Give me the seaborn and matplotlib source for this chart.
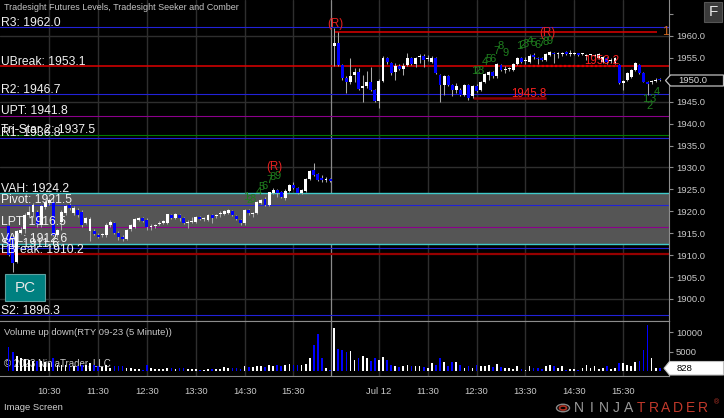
import numpy as np
import pandas as pd
import matplotlib
matplotlib.use("Agg")
import matplotlib.pyplot as plt
import matplotlib.transforms as mtransforms
from matplotlib.patches import Rectangle, Polygon, Circle
import seaborn as sns

# ---------------- data ----------------
# Jul 11 session, 5-minute bars from 09:40 to 16:15
day1_open = [1916.6, 1914.2, 1908.5, 1915.0, 1916.0, 1919.2, 1919.9, 1919.9, 1916.9, 1920.9,
             1921.8, 1922.2, 1914.6, 1917.6, 1919.6, 1921.4, 1919.6, 1920.4, 1919.9, 1917.3,
             1915.4, 1915.5, 1914.6, 1914.5, 1914.6, 1916.8, 1917.3, 1915.0, 1914.2, 1913.7,
             1915.9, 1916.5, 1918.0, 1918.4, 1918.0, 1916.5, 1916.7, 1917.0, 1917.3, 1917.3,
             1919.2, 1918.4, 1919.2, 1918.4, 1917.3, 1917.5, 1917.5, 1918.8, 1918.2, 1918.0,
             1919.2, 1918.9, 1919.3, 1919.4, 1919.6, 1920.0, 1919.0, 1918.0, 1917.3, 1920.3,
             1919.4, 1919.7, 1921.8, 1922.8, 1921.4, 1924.2, 1924.9, 1924.3, 1923.0, 1924.7,
             1926.0, 1925.3, 1924.1, 1924.7, 1927.3, 1929.4, 1928.5, 1927.6, 1927.2, 1927.3]
day1_high = [1916.9, 1914.5, 1915.8, 1916.5, 1919.6, 1921.1, 1922.0, 1920.3, 1921.4, 1922.6,
             1923.0, 1923.5, 1916.0, 1920.3, 1921.4, 1921.8, 1921.1, 1920.7, 1920.3, 1918.8,
             1918.6, 1916.0, 1915.0, 1915.0, 1917.3, 1918.0, 1917.6, 1915.4, 1914.5, 1915.9,
             1917.2, 1918.5, 1918.8, 1918.7, 1918.4, 1917.0, 1917.2, 1917.7, 1918.1, 1919.5,
             1919.5, 1919.6, 1919.5, 1918.6, 1918.0, 1918.8, 1919.0, 1919.0, 1918.8, 1919.5,
             1919.5, 1919.3, 1920.0, 1920.2, 1920.6, 1920.3, 1919.2, 1918.3, 1920.6, 1920.6,
             1919.8, 1922.4, 1922.9, 1923.3, 1924.5, 1925.3, 1925.2, 1924.6, 1925.0, 1926.3,
             1926.6, 1925.6, 1925.2, 1927.5, 1929.5, 1931.0, 1928.8, 1928.3, 1927.8, 1927.5]
day1_low = [1909.8, 1906.2, 1908.3, 1914.8, 1915.0, 1918.8, 1918.8, 1916.5, 1916.5, 1920.5,
            1921.4, 1914.3, 1914.2, 1915.7, 1919.2, 1920.3, 1919.2, 1918.8, 1916.5, 1917.0,
            1913.3, 1914.5, 1913.9, 1914.2, 1914.2, 1916.5, 1914.8, 1913.5, 1913.3, 1913.4,
            1915.6, 1916.3, 1917.8, 1917.6, 1915.8, 1915.8, 1916.3, 1916.8, 1917.1, 1917.1,
            1918.2, 1918.2, 1917.8, 1917.1, 1916.2, 1917.3, 1917.3, 1918.0, 1917.8, 1917.8,
            1917.3, 1918.5, 1918.8, 1919.2, 1919.4, 1919.0, 1918.0, 1916.9, 1916.9, 1919.2,
            1918.8, 1919.5, 1921.6, 1921.1, 1921.2, 1923.9, 1923.3, 1923.0, 1922.6, 1924.5,
            1925.0, 1923.9, 1923.9, 1924.5, 1927.1, 1928.1, 1926.9, 1926.8, 1926.7, 1926.7]
day1_close = [1910.0, 1908.1, 1915.4, 1915.7, 1919.2, 1919.9, 1921.4, 1916.9, 1921.1, 1922.2,
              1922.6, 1914.6, 1915.7, 1919.9, 1921.1, 1920.8, 1920.7, 1919.2, 1916.9, 1918.4,
              1918.2, 1914.8, 1914.2, 1914.7, 1916.9, 1917.6, 1915.0, 1914.2, 1913.7, 1915.7,
              1916.9, 1918.2, 1918.4, 1917.9, 1916.4, 1916.7, 1916.9, 1917.4, 1917.8, 1919.3,
              1918.4, 1919.3, 1918.4, 1917.3, 1917.5, 1917.7, 1918.8, 1918.2, 1918.4, 1919.2,
              1918.4, 1919.1, 1919.5, 1920.0, 1920.3, 1919.2, 1918.2, 1917.3, 1920.3, 1919.6,
              1919.6, 1922.2, 1922.6, 1921.4, 1924.3, 1924.9, 1924.1, 1923.3, 1924.7, 1926.0,
              1925.3, 1924.1, 1924.9, 1927.3, 1929.2, 1928.3, 1927.1, 1927.2, 1927.4, 1926.9]
day1_volume = [6100, 4900, 4000, 3500, 3200, 2900, 2700, 2700, 2500, 2300,
               2100, 3500, 1600, 1600, 1500, 1500, 1200, 1200, 1600, 1500,
               2100, 1500, 1200, 950, 1600, 800, 1400, 1400, 1400, 800,
               800, 600, 600, 350, 1600, 800, 600, 500, 600, 800,
               800, 600, 800, 800, 600, 600, 600, 350, 350, 600,
               600, 600, 600, 950, 800, 800, 800, 600, 1200, 950,
               950, 1200, 1200, 950, 1500, 1200, 1500, 1200, 1500, 1800,
               1600, 1600, 1600, 1800, 3500, 6600, 9500, 3400, 800, 350]

# Jul 12 session, 5-minute bars from 09:35 to 16:15
day2_open = [1957.6, 1958.3, 1953.3, 1950.4, 1949.4, 1951.1, 1951.7, 1948.1, 1948.5, 1949.6,
             1947.7, 1945.2, 1949.8, 1955.0, 1953.8, 1951.7, 1953.2, 1952.5, 1953.4, 1954.9,
             1953.7, 1955.2, 1955.5, 1954.7, 1954.1, 1955.0, 1951.1, 1948.8, 1950.9, 1948.8,
             1947.7, 1947.7, 1946.5, 1948.8, 1946.2, 1948.6, 1947.7, 1949.4, 1951.1, 1951.7,
             1950.8, 1953.4, 1952.3, 1952.4, 1952.2, 1953.6, 1955.0, 1954.4, 1954.1, 1955.7,
             1955.0, 1955.0, 1954.6, 1955.6, 1956.1, 1955.8, 1955.9, 1956.3, 1955.9, 1955.9,
             1956.0, 1955.9, 1955.5, 1955.6, 1955.4, 1955.0, 1954.0, 1954.9, 1954.2, 1953.9,
             1953.4, 1949.3, 1950.0, 1950.6, 1952.2, 1953.4, 1951.5, 1949.6, 1949.4, 1949.8,
             1950.1]
day2_high = [1961.8, 1960.9, 1953.6, 1950.8, 1955.0, 1952.8, 1952.6, 1951.1, 1951.9, 1953.0,
             1948.0, 1950.2, 1955.5, 1955.3, 1954.0, 1953.8, 1953.5, 1953.8, 1956.0, 1955.2,
             1955.3, 1955.8, 1955.8, 1955.7, 1955.5, 1955.3, 1951.3, 1951.1, 1951.1, 1949.0,
             1949.2, 1948.1, 1949.1, 1949.0, 1948.9, 1949.0, 1949.8, 1951.6, 1952.1, 1952.0,
             1953.8, 1953.6, 1953.2, 1953.0, 1953.8, 1955.3, 1955.3, 1955.1, 1955.8, 1956.0,
             1955.1, 1955.3, 1956.0, 1956.6, 1956.4, 1956.3, 1956.3, 1956.5, 1956.8, 1956.3,
             1956.2, 1956.2, 1955.8, 1955.9, 1955.8, 1956.2, 1955.5, 1955.2, 1954.9, 1955.2,
             1953.6, 1950.0, 1951.7, 1952.4, 1954.1, 1953.7, 1951.7, 1949.8, 1950.0, 1950.3,
             1950.4]
day2_low = [1953.2, 1953.1, 1950.0, 1946.9, 1949.1, 1949.6, 1947.7, 1945.0, 1948.2, 1947.4,
            1944.9, 1943.6, 1949.6, 1953.7, 1951.1, 1950.0, 1952.2, 1951.1, 1953.2, 1953.3,
            1953.0, 1953.8, 1953.0, 1954.2, 1953.8, 1951.3, 1945.0, 1946.5, 1948.5, 1946.2,
            1947.0, 1946.2, 1946.2, 1945.5, 1945.9, 1947.2, 1947.4, 1949.2, 1950.0, 1950.5,
            1950.5, 1952.0, 1951.5, 1951.9, 1952.0, 1953.4, 1953.8, 1953.7, 1953.9, 1954.8,
            1953.7, 1954.2, 1954.4, 1955.4, 1953.8, 1954.9, 1955.5, 1955.6, 1955.4, 1955.7,
            1955.5, 1955.7, 1954.5, 1955.3, 1954.8, 1954.8, 1953.8, 1953.7, 1953.9, 1953.6,
            1949.0, 1947.7, 1949.8, 1950.4, 1952.0, 1951.3, 1949.4, 1946.5, 1949.1, 1949.6,
            1949.7]
day2_close = [1958.3, 1953.4, 1950.3, 1949.4, 1950.9, 1951.7, 1948.0, 1948.5, 1949.5, 1947.7,
              1945.2, 1949.8, 1955.0, 1954.0, 1951.5, 1953.2, 1952.5, 1953.2, 1955.0, 1953.6,
              1954.9, 1955.4, 1954.6, 1955.0, 1955.0, 1951.5, 1948.8, 1950.9, 1948.8, 1947.7,
              1948.6, 1946.5, 1948.8, 1945.8, 1948.6, 1947.5, 1949.5, 1951.3, 1951.7, 1950.8,
              1953.6, 1952.2, 1952.5, 1952.6, 1953.6, 1955.0, 1954.1, 1954.6, 1955.5, 1955.1,
              1954.8, 1954.5, 1955.8, 1956.3, 1955.8, 1956.0, 1956.0, 1955.8, 1956.1, 1956.1,
              1955.7, 1956.0, 1955.6, 1955.7, 1955.6, 1955.9, 1955.2, 1954.0, 1954.6, 1954.9,
              1949.2, 1949.7, 1951.5, 1952.2, 1953.8, 1951.5, 1949.6, 1949.1, 1949.6, 1950.0,
              1950.0]
day2_volume = [11000, 5800, 5400, 5000, 5200, 2800, 3300, 3900, 3300, 2600,
               3300, 2800, 3700, 2800, 1700, 1300, 1100, 1300, 1700, 1300,
               1300, 1300, 1100, 900, 2200, 1700, 3400, 2400, 1300, 2400,
               2300, 1600, 900, 1300, 900, 1600, 1300, 1300, 1600, 1100,
               1800, 1100, 900, 900, 600, 1200, 600, 350, 1200, 900,
               800, 600, 1200, 1500, 1400, 800, 1200, 350, 600, 500,
               350, 800, 1600, 800, 1200, 600, 900, 1200, 600, 900,
               2200, 2000, 1500, 1200, 2300, 2600, 5400, 12000, 3500, 900,
               828]

# horizontal levels
level_names = ["R3", "UBreak", "R2", "UPT", "Tri-Star 2", "R1", "VAH", "Pivot",
               "LPT", "VAL", "S1", "LBreak", "S2"]
level_values = [1962.0, 1953.1, 1946.7, 1941.8, 1937.5, 1936.8, 1924.2, 1921.5,
                1916.5, 1912.6, 1911.6, 1910.2, 1896.3]
value_area = (1912.6, 1924.2)
comber_target = 1960.8
seeker_low = 1945.8
seeker_mid = 1953.2

# tick labels (times on the axis)
tick_times = ["2023-07-11 10:30", "2023-07-11 11:30", "2023-07-11 12:30", "2023-07-11 13:30",
              "2023-07-11 14:30", "2023-07-11 15:30", "2023-07-12 10:30", "2023-07-12 11:30",
              "2023-07-12 12:30", "2023-07-12 13:30", "2023-07-12 14:30", "2023-07-12 15:30"]
tick_labels = ["10:30", "11:30", "12:30", "13:30", "14:30", "15:30",
               "Jul 12", "11:30", "12:30", "13:30", "14:30", "15:30"]

# Seeker counts (bar position, price, digit)
seek_x = [59.5, 60.3, 61.1, 62.4, 63.2, 64.0, 65.0, 66.0, 67.1,
          115.4, 116.2, 117.1, 118.1, 119.0, 119.9, 120.9, 122.0, 123.0,
          126.4, 127.3, 128.1, 129.1, 129.9, 130.9, 132.0, 133.0, 134.0,
          157.4, 158.4, 159.3, 160.3]
seek_y = [1923.3, 1922.6, 1922.7, 1924.5, 1925.6, 1925.8, 1927.1, 1927.9, 1928.1,
          1952.1, 1951.9, 1952.1, 1954.1, 1954.7, 1954.7, 1956.6, 1957.7, 1956.1,
          1957.7, 1957.9, 1958.2, 1958.9, 1958.5, 1957.9, 1958.3, 1958.7, 1958.9,
          1945.7, 1944.0, 1945.7, 1947.2]
seek_txt = list("123456789") * 3 + list("1234")
reversal_x = [81.2, 133.3, 66.2]
reversal_y = [1962.7, 1960.7, 1930.1]

# ---------------- build frame ----------------
SLOTS_PER_DAY = 81
def to_slot(ts):
    ts = pd.Timestamp(ts)
    day = (ts.normalize() - pd.Timestamp("2023-07-11")).days
    minutes = ts.hour * 60 + ts.minute - (9 * 60 + 35)
    return day * SLOTS_PER_DAY + minutes / 5

d1_times = pd.date_range("2023-07-11 09:40", periods=len(day1_open), freq="5min")
d2_times = pd.date_range("2023-07-12 09:35", periods=len(day2_open), freq="5min")
df = pd.DataFrame({
    "time": list(d1_times) + list(d2_times),
    "open": day1_open + day2_open,
    "high": day1_high + day2_high,
    "low": day1_low + day2_low,
    "close": day1_close + day2_close,
    "volume": day1_volume + day2_volume,
})
df["slot"] = [to_slot(t) for t in df["time"]]
df["dir"] = np.where(df["close"] >= df["open"], "up", "down")
tick_slots = [to_slot(t) for t in tick_times]
session_break = to_slot(d1_times[-1]) + 0.2
last_price = day2_close[-1]

# ---------------- style ----------------
sns.set_theme(style="dark", rc={
    "figure.facecolor": "black", "axes.facecolor": "black",
    "axes.edgecolor": "#8c8c8c", "text.color": "#d0d0d0",
    "xtick.color": "#c8c8c8", "ytick.color": "#c8c8c8",
})
plt.rcParams["font.family"] = ["Liberation Sans", "DejaVu Sans"]

W, H = 724, 418
fig = plt.figure(figsize=(W / 100, H / 100), dpi=100, facecolor="black")
def fx(px): return px / W
def fy(py): return 1 - py / H

PANEL_R = 668.5
ax = fig.add_axes([0, fy(320.7), PANEL_R / W, 320.7 / H])
axv = fig.add_axes([0, fy(376.3), PANEL_R / W, (376.3 - 320.7) / H], sharex=ax)
for a in (ax, axv):
    a.set_facecolor("black")
    a.grid(False)

XL = (-1.11, 163.15)
GRID = "#2e2e2e"
BLUE = "#2222d8"
ax.set_ylim(1895.05, 1968.2)

# grid
for v in range(1900, 1961, 15):
    ax.axhline(v, color=GRID, lw=1.0, zorder=1)
for s in tick_slots:
    ax.axvline(s, color=GRID, lw=1.0, zorder=1)
    axv.axvline(s, color=GRID, lw=1.0, zorder=1)
ax.axvline(session_break, color="#8a8a8a", lw=0.9, zorder=1)
axv.axvline(session_break, color="#8a8a8a", lw=0.9, zorder=1)

# value area
ax.axhspan(value_area[0], value_area[1], color="#555555", lw=0, zorder=1.5)

# level lines + labels
level_colors = [BLUE, "#e00000", BLUE, "#8b008b", "#007a00", BLUE, "#3fcaca", BLUE,
                "#8b008b", "#3fcaca", BLUE, "#960000", BLUE]
level_lw = [0.8, 1.1, 0.8, 0.8, 0.8, 0.8, 1.0, 0.8, 0.8, 1.0, 0.8, 1.6, 0.8]
lab_tr = mtransforms.blended_transform_factory(ax.transAxes, ax.transData) + \
    mtransforms.ScaledTranslation(0, 1.4 / 100, fig.dpi_scale_trans)
for name, val, c, lw in zip(level_names, level_values, level_colors, level_lw):
    ax.axhline(val, color=c, lw=lw, zorder=2)
    ax.text(0.002, val, f"{name}: {val:.1f}", transform=lab_tr, fontsize=8.7,
            color="#f2f2f2", va="baseline", ha="left", zorder=6)

# comber target / seeker lines
ax.hlines(comber_target, 81, 160.3, color="#e00000", lw=1.1, zorder=2)
ax.text(161.5, comber_target, f"{comber_target:.1f}", color="#d2691e", fontsize=9,
        va="center", ha="left", clip_on=True, zorder=6)
ax.hlines(seeker_low, 115.1, 133.0, color="#8a0000", lw=1.8, zorder=2)
ax.text(133.2, seeker_low + 0.35, f"{seeker_low:.1f}", color="#ff2020", fontsize=8.3,
        va="baseline", ha="right", zorder=6)
ax.hlines(seeker_mid, 125.4, 150.7, color="#e00000", lw=1.6, linestyles=(0, (1, 1)), zorder=2)
ax.text(151.0, seeker_mid + 0.45, f"{seeker_mid:.1f}", color="#ff2020", fontsize=8.3,
        va="baseline", ha="right", zorder=6)

# candles
ax.vlines(df["slot"], df["low"], df["high"], color="#a8a8a8", lw=0.75, zorder=3)
body_lo = np.minimum(df["open"], df["close"])
body_h = np.maximum(np.abs(df["close"] - df["open"]), 0.22)
body_c = np.where(df["dir"] == "up", "#ffffff", "#0000ff")
ax.bar(df["slot"], body_h, bottom=body_lo, width=0.72, color=body_c, lw=0, zorder=4)

# seeker digits and reversal marks
for x, y, t in zip(seek_x, seek_y, seek_txt):
    ax.text(x, y, t, color="#1f7f1f", fontsize=8, ha="center", va="center", zorder=5)
for x, y in zip(reversal_x, reversal_y):
    ax.text(x, y, "(R)", color="#e82020", fontsize=8.3, ha="center", va="center", zorder=5)

# price axis (the 1950.0 label sits under the last-price marker)
ax.yaxis.tick_right()
pt = list(range(1900, 1966, 5))
ax.set_yticks(pt)
ax.set_yticklabels([f"{v:.1f}" if (v < 1965 and abs(v - last_price) > 1) else "" for v in pt])
ax.tick_params(axis="y", labelsize=6.8, length=3, width=0.8, pad=2.5,
               color="#8c8c8c", labelcolor="#c8c8c8")
ax.tick_params(axis="x", labelbottom=False, length=0)
for side in ("left", "top"):
    ax.spines[side].set_visible(False)
for side in ("right", "bottom"):
    ax.spines[side].set_color("#8c8c8c")
    ax.spines[side].set_linewidth(0.8)
ax.set_ylabel("")

# volume panel (seaborn)
sns.barplot(data=df, x="slot", y="volume", hue="dir",
            palette={"up": "#ffffff", "down": "#0000ff"}, native_scale=True,
            dodge=False, width=0.42, saturation=1, errorbar=None, legend=False,
            linewidth=0, ax=axv, zorder=3)
axv.set_ylim(-1340, 12990)
axv.yaxis.tick_right()
axv.set_yticks([5000, 10000])
axv.set_yticklabels(["5000", "10000"])
axv.tick_params(axis="y", labelsize=6.8, length=3, width=0.8, pad=2.5,
                color="#8c8c8c", labelcolor="#c8c8c8")
axv.set_xticks(tick_slots)
axv.set_xticklabels(tick_labels)
axv.tick_params(axis="x", labelsize=6.8, length=0, pad=7.5, labelcolor="#c8c8c8")
axv.set_xlim(*XL)
axv.set_xlabel("")
axv.set_ylabel("")
axv.spines["left"].set_visible(False)
for side in ("right", "bottom", "top"):
    axv.spines[side].set_color("#8c8c8c")
    axv.spines[side].set_linewidth(0.8)
axv.text(0.006, 0.78, "Volume up down(RTY 09-23 (5 Minute))", transform=axv.transAxes,
         fontsize=6.8, color="#c8c8c8", va="center", ha="left", zorder=2)
axv.text(0.006, 0.22, "\u00a9 2023 NinjaTrader, LLC", transform=axv.transAxes,
         fontsize=7, color="#c8c8c8", va="center", ha="left", zorder=2)

# titles & overlays
fig.text(fx(4), fy(8), "Tradesight Futures Levels, Tradesight Seeker and Comber",
         fontsize=6.5, color="#c4c4c4", va="center", ha="left")
fig.text(fx(4), fy(408), "Image Screen", fontsize=6.8, color="#d0d0d0", va="center", ha="left")

# PC box
fig.add_artist(Rectangle((fx(5), fy(301)), 40 / W, 27 / H, transform=fig.transFigure,
                         facecolor="#008080", edgecolor="#5fa0a0", lw=0.8, zorder=10))
fig.text(fx(25), fy(287.5), "PC", fontsize=11, color="#e8e8e8", ha="center", va="center", zorder=11)

# F button
fig.add_artist(Rectangle((fx(704), fy(22)), 18 / W, 20 / H, transform=fig.transFigure,
                         facecolor="#3a3a3a", edgecolor="#555555", lw=0.8, zorder=10))
fig.text(fx(713), fy(12), "F", fontsize=11, color="#e6e6e6", ha="center", va="center", zorder=11)

# last price marker
def marker(pts, **kw):
    fig.add_artist(Polygon([(fx(a), fy(b)) for a, b in pts], closed=True,
                           transform=fig.transFigure, zorder=10, **kw))
marker([(665.5, 80.5), (670.5, 75), (723.5, 75), (723.5, 86), (670.5, 86)],
       facecolor="black", edgecolor="#c0c0c0", lw=0.9)
fig.text(fx(678), fy(80.6), f"{last_price:.1f}", fontsize=6.8, color="#d8d8d8",
         ha="left", va="center", zorder=11)
marker([(664, 368.3), (669.5, 361.5), (723.5, 361.5), (723.5, 375), (669.5, 375)],
       facecolor="white", edgecolor="#c0c0c0", lw=0.8)
fig.text(fx(677), fy(368.3), f"{day2_volume[-1]}", fontsize=6.8, color="black",
         ha="left", va="center", zorder=11)

# NinjaTrader logo
fig.add_artist(Circle((fx(563), fy(408)), 6.5 / W, transform=fig.transFigure,
                      facecolor="none", edgecolor="#8a8a8a", lw=1.0, zorder=10))
fig.add_artist(Circle((fx(563), fy(408)), 3.5 / W, transform=fig.transFigure,
                      facecolor="none", edgecolor="#b03020", lw=1.2, zorder=10))
for i, ch in enumerate("NINJATRADER"):
    fig.text(fx(579 + i * 12.4), fy(408), ch, fontsize=10, ha="center", va="center",
             color="#9a9a9a" if i < 5 else "#c0392b")
fig.text(fx(717), fy(403), "\u00ae", fontsize=5, ha="center", va="center", color="#c0392b")

ax.set_xlim(*XL)
fig.savefig("out.png", dpi=100, facecolor="black")
